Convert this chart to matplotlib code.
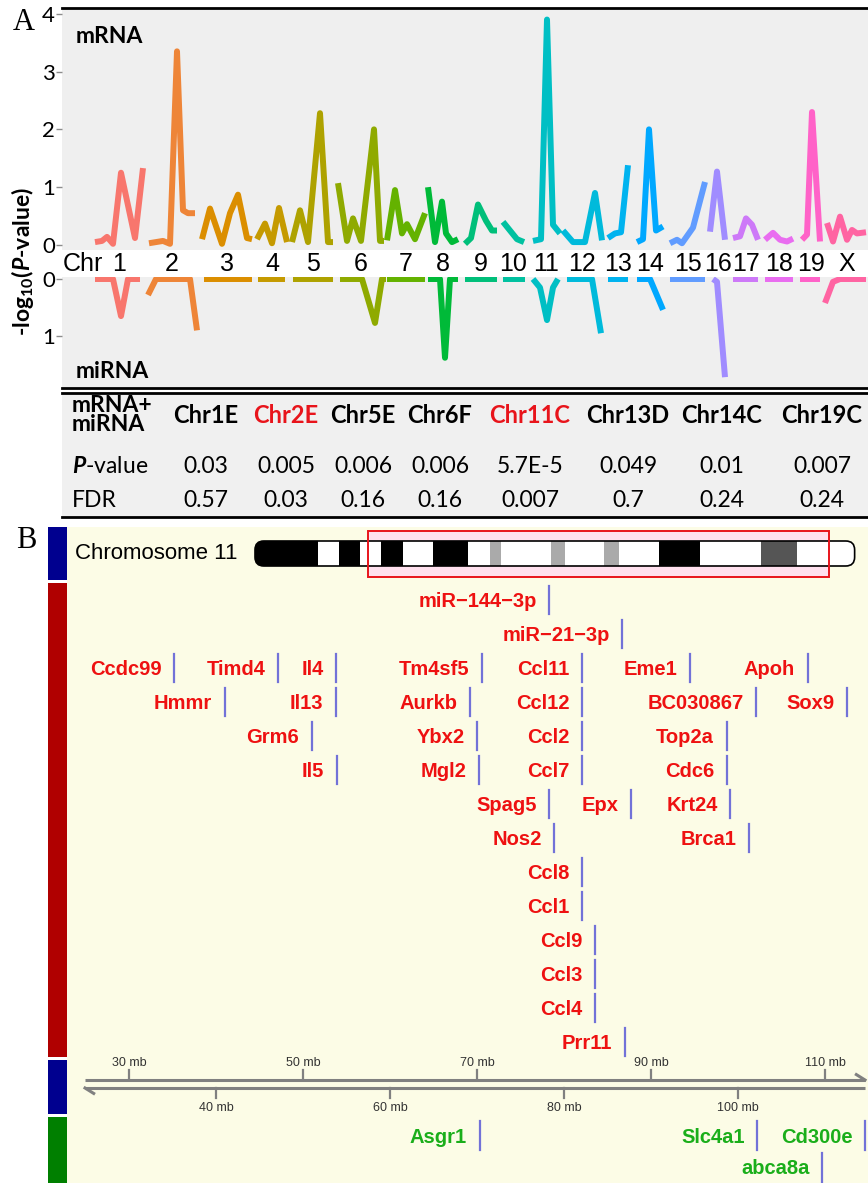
import matplotlib
matplotlib.use('Agg')
import matplotlib.pyplot as plt
import matplotlib.transforms as mtransforms
from matplotlib.patches import Rectangle, FancyBboxPatch

W, H = 868, 1183
plt.rcParams['font.family'] = ['Lato', 'DejaVu Sans']
plt.rcParams['mathtext.fontset'] = 'custom'
plt.rcParams['mathtext.rm'] = 'Lato:bold'
plt.rcParams['mathtext.it'] = 'Lato:bold:italic'
plt.rcParams['mathtext.bf'] = 'Lato:bold'

# ---------------- panel A: per-chromosome -log10(P) profiles ----------------
chroms = ['1', '2', '3', '4', '5', '6', '7', '8', '9', '10', '11', '12', '13', '14',
          '15', '16', '17', '18', '19', 'X']
chrom_colors = ['#F8766D', '#EE8538', '#DB8E00', '#C59A00', '#AEA200', '#8FAA00', '#64B200',
                '#00BA38', '#00BF7A', '#00C1A0', '#00BFC4', '#00BADB', '#00B3EF', '#00A8FF',
                '#619CFF', '#A08CFF', '#CD79F8', '#E96DF0', '#FF62C8', '#FF64A2']

mrna_pos = [[33, 40, 45, 51, 59, 73, 81], [87, 101, 108, 115, 121, 126, 133],
            [140, 148, 160, 168, 176, 185, 190], [195, 203, 210, 217, 225],
            [230, 238, 246, 258, 266, 271], [276, 285, 291, 299, 312, 318, 322],
            [325, 333, 340, 345, 353, 363], [366, 373, 380, 384, 390, 396],
            [403, 409, 416, 424, 430, 435], [441, 448, 455, 462],
            [471, 479, 485, 491, 498], [501, 511, 523, 533, 540],
            [546, 553, 559, 566], [575, 581, 587, 594, 601],
            [608, 615, 620, 631, 643], [648, 655, 663],
            [671, 678, 684, 690, 696], [703, 711, 718, 725, 731],
            [740, 745, 750, 758], [765, 771, 778, 785, 790, 795, 804]]
mrna_val = [[0.05, 0.07, 0.14, 0.02, 1.25, 0.12, 1.33], [0.03, 0.07, 0.02, 3.35, 0.6, 0.55, 0.55],
            [0.1, 0.63, 0.02, 0.55, 0.87, 0.12, 0.1], [0.1, 0.37, 0.03, 0.64, 0.05],
            [0.05, 0.6, 0.05, 2.28, 0.05, 0.05], [1.07, 0.07, 0.46, 0.07, 2.0, 0.07, 0.07],
            [0.08, 0.95, 0.2, 0.36, 0.1, 0.55], [1.0, 0.05, 0.75, 0.2, 0.05, 0.1],
            [0.02, 0.12, 0.7, 0.42, 0.25, 0.25], [0.4, 0.25, 0.1, 0.05],
            [0.07, 0.1, 3.9, 0.35, 0.2], [0.25, 0.05, 0.05, 0.9, 0.08],
            [0.12, 0.2, 0.22, 1.38], [0.05, 0.1, 2.0, 0.25, 0.32],
            [0.03, 0.09, 0.03, 0.3, 1.09], [0.23, 1.27, 0.09],
            [0.12, 0.15, 0.46, 0.35, 0.09], [0.09, 0.21, 0.09, 0.06, 0.11],
            [0.09, 0.18, 2.3, 0.06], [0.38, 0.06, 0.49, 0.09, 0.26, 0.2, 0.22]]

mirna_pos = [[33, 51, 59, 66, 78], [86, 94, 128, 135], [142, 190], [196, 223], [231, 271],
             [278, 300, 313, 320, 324], [325, 363], [366, 378, 383, 388, 396], [403, 435],
             [441, 463], [471, 478, 485, 491, 496], [505, 530, 539], [546, 566],
             [575, 588, 601], [608, 643], [651, 655, 663], [671, 696], [703, 731],
             [738, 758], [763, 771, 778, 804]]
mirna_val = [[0, 0, 0.65, 0, 0], [0.28, 0, 0, 0.9], [0, 0], [0, 0], [0, 0],
             [0, 0, 0.77, 0, 0], [0, 0], [0, 0, 1.38, 0, 0], [0, 0],
             [0, 0], [0, 0.15, 0.72, 0.15, 0], [0, 0, 0.95], [0, 0],
             [0, 0, 0.54], [0, 0], [0, 0.05, 1.72], [0, 0], [0, 0],
             [0, 0], [0.42, 0.05, 0, 0]]

# ---------------- table ----------------
region_names = ['Chr1E', 'Chr2E', 'Chr5E', 'Chr6F', 'Chr11C', 'Chr13D', 'Chr14C', 'Chr19C']
region_p = ['0.03', '0.005', '0.006', '0.006', '5.7E-5', '0.049', '0.01', '0.007']
region_fdr = ['0.57', '0.03', '0.16', '0.16', '0.007', '0.7', '0.24', '0.24']
region_hit = [False, True, False, False, True, False, False, False]

# ---------------- panel B: chromosome 11 ----------------
chr11_edges = [0, 12.8, 17.1, 21.3, 25.6, 30.1, 36.2, 43.3, 47.8, 50.0, 60.2, 63.0,
               71.0, 74.0, 82.1, 90.5, 102.9, 110.2, 122.0]
chr11_stain = ['gpos100', 'gneg', 'gpos100', 'gneg', 'gpos100', 'gneg', 'gpos100', 'gneg',
               'gpos33', 'gneg', 'gpos33', 'gneg', 'gpos33', 'gneg', 'gpos100', 'gneg',
               'gpos75', 'gneg']
zoom_region = (23.0, 116.7)

red_names = ['miR\u2212144\u22123p', 'miR\u221221\u22123p',
             'Ccdc99', 'Timd4', 'Il4', 'Tm4sf5', 'Ccl11', 'Eme1', 'Apoh',
             'Hmmr', 'Il13', 'Aurkb', 'Ccl12', 'BC030867', 'Sox9',
             'Grm6', 'Ybx2', 'Ccl2', 'Top2a',
             'Il5', 'Mgl2', 'Ccl7', 'Cdc6',
             'Spag5', 'Epx', 'Krt24', 'Nos2', 'Brca1',
             'Ccl8', 'Ccl1', 'Ccl9', 'Ccl3', 'Ccl4', 'Prr11']
red_mb = [78.3, 86.7,
          35.2, 47.1, 53.8, 70.6, 82.1, 94.5, 108.0,
          41.0, 53.8, 69.2, 82.1, 102.1, 112.5,
          51.0, 70.0, 82.1, 98.7,
          53.9, 70.2, 82.1, 98.7,
          78.3, 87.7, 99.1, 78.9, 101.3,
          82.1, 82.1, 83.6, 83.6, 83.6, 87.0]
red_rows = [0, 1,
            2, 2, 2, 2, 2, 2, 2,
            3, 3, 3, 3, 3, 3,
            4, 4, 4, 4,
            5, 5, 5, 5,
            6, 6, 6, 7, 7,
            8, 9, 10, 11, 12, 13]

green_names = ['Asgr1', 'Slc4a1', 'Cd300e', 'abca8a']
green_mb = [70.3, 102.2, 114.6, 109.7]
green_rows = [15.75, 15.75, 15.75, 16.68]

mb_ticks_top = [30, 50, 70, 90, 110]
mb_ticks_bottom = [40, 60, 80, 100]

fig = plt.figure(figsize=(W / 100, H / 100), dpi=100)


def px_axes(x0, y0, x1, y1, **kw):
    return fig.add_axes([x0 / W, 1 - y1 / H, (x1 - x0) / W, (y1 - y0) / H], **kw)


def clean(ax):
    ax.set_xticks([])
    for s in ax.spines.values():
        s.set_visible(False)


# mRNA (upper) and miRNA (lower, inverted) axes
axT = px_axes(62, 8, 868, 250, facecolor='#EFEFEF')
axM = px_axes(62, 277, 868, 388, facecolor='#EFEFEF')
for ax in (axT, axM):
    clean(ax)
    ax.set_xlim(0, 806)
    ax.tick_params(axis='y', length=4, width=1, color='#8C8C8C', labelsize=16, pad=1)
for i, c in enumerate(chrom_colors):
    axT.plot(mrna_pos[i], mrna_val[i], color=c, lw=4.3, solid_capstyle='butt')
    axM.plot(mirna_pos[i], mirna_val[i], color=c, lw=4.3, solid_capstyle='butt')
axT.set_ylim(-0.087, 4.10)
axT.set_yticks([0, 1, 2, 3, 4])
axM.set_ylim(1.91, -0.035)
axM.set_yticks([0, 1])
axT.spines['top'].set_visible(True)
axT.spines['top'].set_linewidth(2)
axM.spines['bottom'].set_visible(True)
axM.spines['bottom'].set_linewidth(2)

# chromosome names in the white strip between the two panels
band = mtransforms.blended_transform_factory(axT.transData, axT.transAxes)
for i, ch in enumerate(chroms):
    xc = (mrna_pos[i][0] + mrna_pos[i][-1]) / 2
    axT.text(xc, -0.058, ch, transform=band, ha='center', va='center', fontsize=18,
             family='Liberation Sans', clip_on=False)

# overlay in pixel units for labels, table and frame pieces
ov = fig.add_axes([0, 0, 1, 1], zorder=10)
ov.set_xlim(0, W)
ov.set_ylim(H, 0)
ov.axis('off')

ov.text(63, 264, 'Chr', ha='left', va='center', fontsize=18, family='Liberation Sans')
ov.text(76, 36, 'mRNA', ha='left', va='center', fontsize=16.5, fontweight='bold')
ov.text(76, 371, 'miRNA', ha='left', va='center', fontsize=16.5, fontweight='bold')
ov.text(23, 262, r'-log$_{10}$($\mathit{P}$-value)', rotation=90, ha='center', va='center',
        fontsize=16.5, fontweight='bold')
ov.text(13, 22, 'A', ha='left', va='center', fontsize=22, family='Liberation Serif')
ov.text(16, 540, 'B', ha='left', va='center', fontsize=22, family='Liberation Serif')

# summary table
ov.add_patch(Rectangle((62, 392), 806, 126, fc='#F0F0F0', ec='none', zorder=0))
ov.plot([62, 868], [393, 393], color='black', lw=2)
ov.plot([62, 868], [517, 517], color='black', lw=2)
ov.text(72, 415, 'mRNA+\nmiRNA', ha='left', va='center', fontsize=16.5, fontweight='bold',
        linespacing=0.85)
ov.text(72, 466, r'$\mathit{P}$-value', ha='left', va='center', fontsize=16.5)
ov.text(72, 500, 'FDR', ha='left', va='center', fontsize=16.5)
col_x = [206, 286, 363, 440, 530, 628, 722, 822]
for x, name, p, f, hit in zip(col_x, region_names, region_p, region_fdr, region_hit):
    ov.text(x, 415, name, ha='center', va='center', fontsize=17, fontweight='bold',
            color='#E8141B' if hit else 'black')
    ov.text(x, 466, p, ha='center', va='center', fontsize=16.5)
    ov.text(x, 500, f, ha='center', va='center', fontsize=16.5)

# track colour bars on the left of panel B
for y0, y1, c in [(527, 580, '#00008F'), (583, 1057, '#B00000'),
                  (1060, 1114, '#00008F'), (1117, 1183, '#007F00')]:
    ov.add_patch(Rectangle((48, y0), 19, y1 - y0, fc=c, ec='none'))

# panel B gene track
axG = px_axes(67, 527, 868, 1183, facecolor='#FCFCE6')
clean(axG)
axG.set_yticks([])
axG.set_xlim(22.87, 114.94)
axG.set_ylim(17.147, -2.147)

tick_c = '#7272D8'
for name, mb, row in zip(red_names, red_mb, red_rows):
    axG.plot([mb, mb], [row - 0.41, row + 0.41], color=tick_c, lw=1.6)
    axG.text(mb - 1.45, row + 0.21, name, ha='right', va='baseline', fontsize=14.5,
             fontweight='bold', color='#EE1111', family='Liberation Sans')
for name, mb, row in zip(green_names, green_mb, green_rows):
    axG.plot([mb, mb], [row - 0.43, row + 0.43], color=tick_c, lw=1.6, clip_on=False)
    axG.text(mb - 1.45, row + 0.21, name, ha='right', va='baseline', fontsize=14.5,
             fontweight='bold', color='#1AAE1A', family='Liberation Sans')

# genomic coordinate axis (two strands)
ax_c = '#808080'
y_up, y_dn = 14.118, 14.353
axG.plot([24.94, 114.6], [y_up, y_up], color=ax_c, lw=2.2, solid_capstyle='butt')
axG.plot([24.94, 114.6], [y_dn, y_dn], color=ax_c, lw=2.2, solid_capstyle='butt')
axG.plot([114.6, 113.6], [y_up, y_up - 0.16], color=ax_c, lw=2.2)
axG.plot([24.94, 25.94], [y_dn, y_dn + 0.16], color=ax_c, lw=2.2)
for v in mb_ticks_top:
    axG.plot([v, v], [y_up, 13.82], color=ax_c, lw=1.6)
    axG.text(v, 13.62, f'{v} mb', ha='center', va='center', fontsize=9, color='#333333',
             family='Liberation Sans')
for v in mb_ticks_bottom:
    axG.plot([v, v], [y_dn, 14.65], color=ax_c, lw=1.6)
    axG.text(v, 14.94, f'{v} mb', ha='center', va='center', fontsize=9, color='#333333',
             family='Liberation Sans')

# chromosome 11 ideogram with highlighted region
axI = px_axes(240, 527, 868, 583)
axI.axis('off')
px_per_mb = 4.915
axI.set_xlim(-15 / px_per_mb, 613 / px_per_mb)
axI.set_ylim(583, 527)
axI.add_patch(Rectangle((zoom_region[0], 531), zoom_region[1] - zoom_region[0], 46,
                        fc='#FFE0EE', ec='none', zorder=1))
outline = FancyBboxPatch((chr11_edges[0], 541), chr11_edges[-1], 25,
                         boxstyle='round,pad=0,rounding_size=1.8', mutation_aspect=px_per_mb,
                         fc='none', ec='black', lw=1.2, zorder=3)
axI.add_patch(outline)
stain_col = {'gpos100': 'black', 'gneg': 'white', 'gpos33': '#AAAAAA', 'gpos75': '#555555'}
for a, b, s in zip(chr11_edges[:-1], chr11_edges[1:], chr11_stain):
    r = Rectangle((a, 541), b - a, 25, fc=stain_col[s], ec='none', zorder=2)
    axI.add_patch(r)
    r.set_clip_path(outline)
axI.add_patch(Rectangle((zoom_region[0], 531), zoom_region[1] - zoom_region[0], 46,
                        fc='none', ec='#E8141B', lw=1.4, zorder=4))
ov.text(75, 553, 'Chromosome 11', ha='left', va='center', fontsize=16, family='Liberation Sans')

fig.savefig('out.png', dpi=100)
